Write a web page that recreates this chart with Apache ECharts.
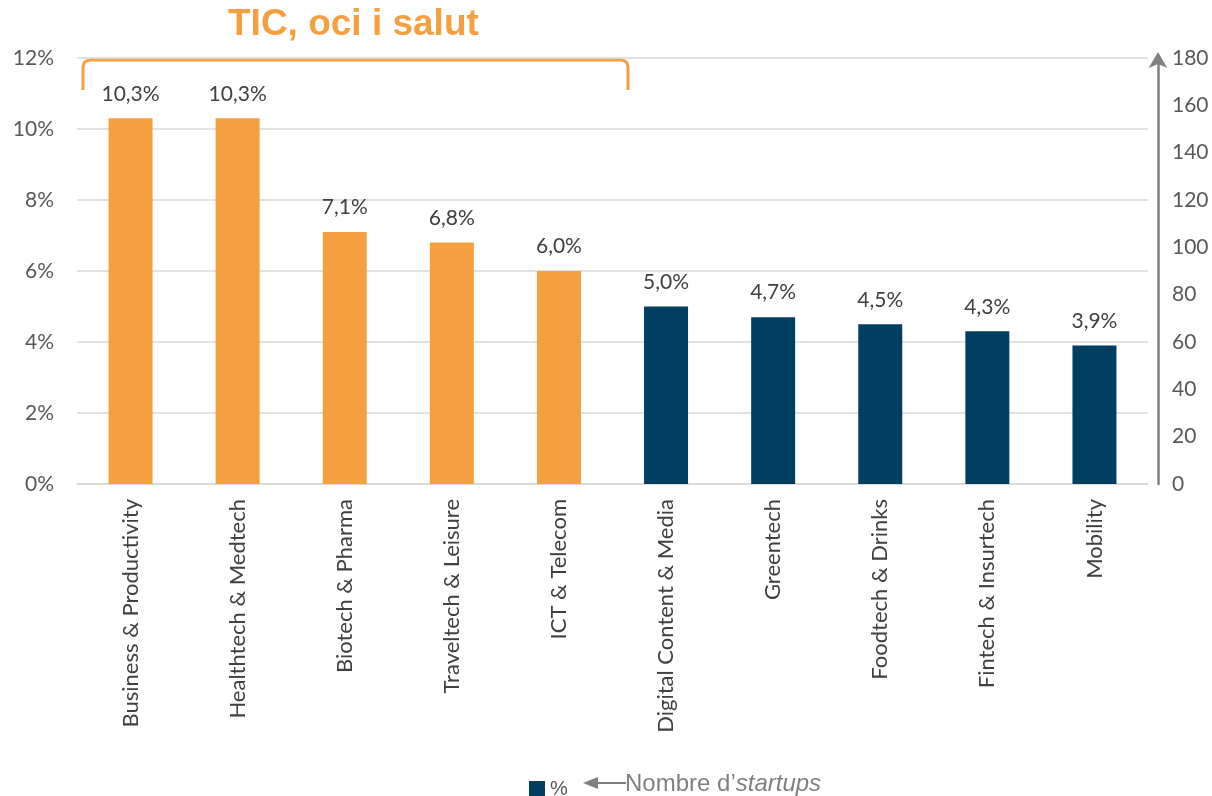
<!DOCTYPE html>
<html>
<head>
    <meta charset="UTF-8">
    <title>TIC, oci i salut</title>
    <script src="https://cdn.jsdelivr.net/npm/echarts@6/dist/echarts.min.js"></script>
    <style>
        html, body { margin: 0; padding: 0; background: #ffffff; }
        #main { width: 1212px; height: 796px; }
    </style>
</head>
<body>
<div id="main"></div>
<script type="text/javascript">
    var categories = ['Business & Productivity', 'Healthtech & Medtech', 'Biotech & Pharma', 'Traveltech & Leisure',
        'ICT & Telecom', 'Digital Content & Media', 'Greentech', 'Foodtech & Drinks', 'Fintech & Insurtech', 'Mobility'];
    var shares = [10.3, 10.3, 7.1, 6.8, 6.0, 5.0, 4.7, 4.5, 4.3, 3.9];
    // els 5 primers formen el grup "TIC, oci i salut"
    var highlighted = [true, true, true, true, true, false, false, false, false, false];

    var orange = '#F4A041';
    var navy = '#003F62';
    var textColor = '#404040';
    var font = 'Lato';

    var barData = shares.map(function (v, i) {
        return {value: v, itemStyle: {color: highlighted[i] ? orange : navy}};
    });

    var myChart = echarts.init(document.getElementById('main'));

    var option = {
        animation: false,
        grid: {left: 77, right: 64, top: 58, bottom: 312},
        legend: {
            data: ['%'],
            left: 524,
            top: 774,
            icon: 'rect',
            itemWidth: 16,
            itemHeight: 16,
            itemGap: 6,
            textStyle: {fontFamily: 'Liberation Sans', fontSize: 20, color: '#595959'}
        },
        xAxis: {
            type: 'category',
            data: categories,
            axisTick: {show: false},
            axisLine: {lineStyle: {color: '#d9d9d9', width: 1.5}},
            axisLabel: {
                rotate: 90,
                margin: 15,
                interval: 0,
                fontFamily: font,
                fontSize: 22,
                color: textColor
            }
        },
        yAxis: [
            {
                type: 'value',
                min: 0,
                max: 12,
                interval: 2,
                axisLine: {show: false},
                axisTick: {show: false},
                splitLine: {lineStyle: {color: '#d9d9d9', width: 1.5}},
                axisLabel: {
                    margin: 23,
                    fontFamily: font,
                    fontSize: 21,
                    color: '#595959',
                    formatter: '{value}%'
                }
            },
            {
                type: 'value',
                min: 0,
                max: 180,
                interval: 20,
                position: 'right',
                offset: 10,
                splitLine: {show: false},
                axisTick: {show: false},
                axisLine: {
                    show: true,
                    symbol: ['none', 'arrow'],
                    symbolSize: [14, 16],
                    symbolOffset: [-9, 6],
                    lineStyle: {color: '#808080', width: 2.5}
                },
                axisLabel: {
                    margin: 14,
                    fontFamily: font,
                    fontSize: 21,
                    color: '#595959'
                }
            }
        ],
        series: [
            {
                name: '%',
                type: 'bar',
                yAxisIndex: 0,
                barWidth: 44,
                itemStyle: {color: navy},
                data: barData,
                label: {
                    show: true,
                    position: 'top',
                    distance: 14,
                    fontFamily: font,
                    fontSize: 21,
                    color: textColor,
                    formatter: function (p) {
                        return p.value.toFixed(1).replace('.', ',') + '%';
                    }
                }
            }
        ],
        graphic: [
            {
                type: 'text',
                left: 228,
                top: 6,
                style: {
                    text: 'TIC, oci i salut',
                    fontFamily: 'Liberation Sans',
                    fontWeight: 'bold',
                    fontSize: 37,
                    fill: orange
                }
            },
            {
                type: 'polyline',
                shape: {
                    points: [[83, 90], [83, 67], [84, 63], [86, 61], [90, 60], [621, 60],
                        [625, 61], [627, 63], [628, 67], [628, 90]]
                },
                style: {fill: null, stroke: orange, lineWidth: 3}
            },
            {
                type: 'polygon',
                shape: {points: [[583, 783], [598, 777], [598, 789]]},
                style: {fill: '#808080'}
            },
            {
                type: 'line',
                shape: {x1: 596, y1: 783, x2: 626, y2: 783},
                style: {stroke: '#808080', lineWidth: 2}
            },
            {
                type: 'text',
                left: 625,
                top: 772,
                style: {
                    text: 'Nombre d\u2019{i|startups}',
                    fontFamily: 'Liberation Sans',
                    fontSize: 24,
                    fill: '#808080',
                    rich: {
                        i: {fontStyle: 'italic', fontFamily: 'Liberation Sans', fontSize: 24, fill: '#808080'}
                    }
                }
            }
        ]
    };

    myChart.setOption(option);
</script>
</body>
</html>
